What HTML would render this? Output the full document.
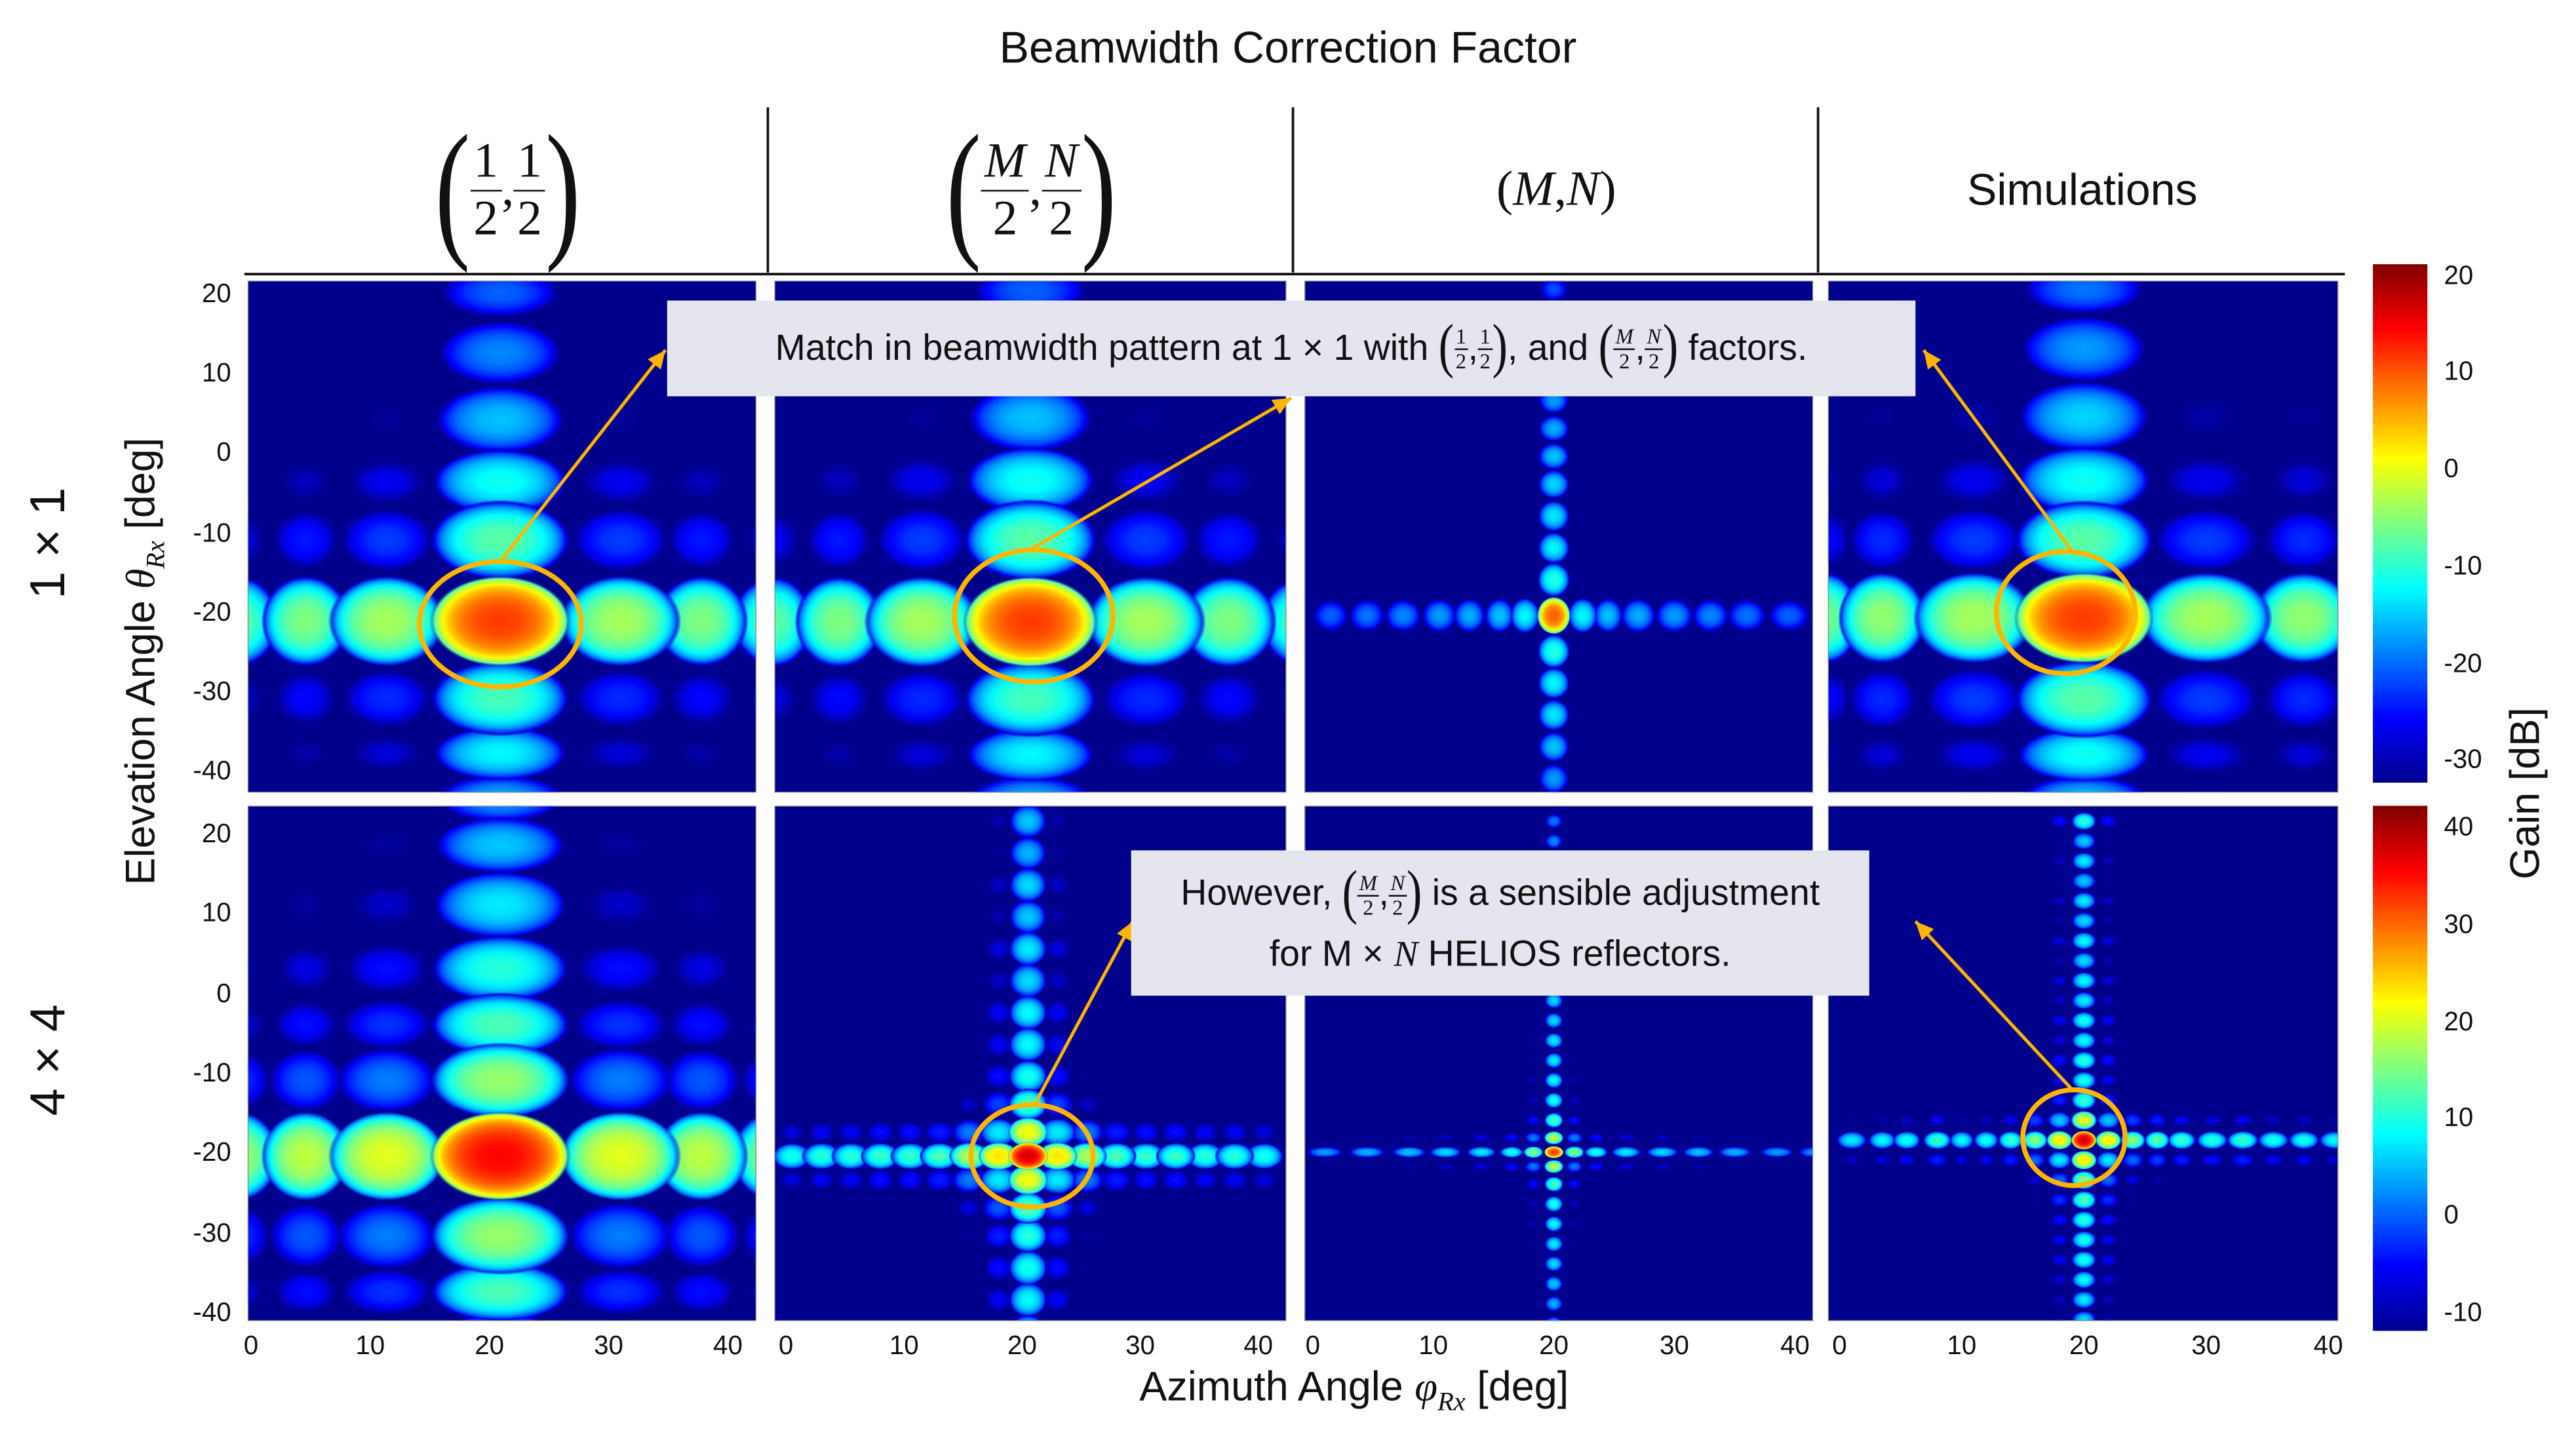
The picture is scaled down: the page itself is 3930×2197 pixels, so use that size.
<!DOCTYPE html>
<html><head><meta charset="utf-8">
<style>
html,body{margin:0;padding:0;background:#fff;overflow:hidden;}
body{width:3930px;height:2195px;}
#root{position:absolute;left:0;top:0;width:1560px;height:871.3px;transform:scale(2.51923);transform-origin:0 0;font-family:"Liberation Sans",sans-serif;color:#111;}
.abs{position:absolute;}
.tick{position:absolute;font-size:16px;}
.ytick{width:40px;text-align:right;}
.xtick{width:40px;text-align:center;}
.frac{display:inline-flex;flex-direction:column;align-items:center;vertical-align:middle;line-height:1;}
.frac .n{border-bottom:1.6px solid #111;padding:0 2px 2px;}
.frac .d{padding-top:2px;}
.hdr{position:absolute;top:65px;height:100px;display:flex;align-items:center;justify-content:center;font-family:"Liberation Serif",serif;font-size:30px;}
.bigp{display:inline-block;font-size:64px;transform:scaleY(1.45);font-family:"Liberation Serif",serif;line-height:1;}
.box{position:absolute;background:#e5e5f0;font-size:22px;}
.sfrac{display:inline-flex;flex-direction:column;align-items:center;vertical-align:middle;line-height:1;font-size:13px;font-family:"Liberation Serif",serif;}
.sfrac .n{border-bottom:1px solid #111;padding:0 1px 1px;}
.sp{display:inline-block;font-size:28px;transform:scaleY(1.3);vertical-align:middle;font-family:"Liberation Serif",serif;}
i{font-family:"Liberation Serif",serif;}
</style></head>
<body>
<div id="root">
<div class="abs" style="left:0;width:1560px;top:14px;text-align:center;font-size:27px;">Beamwidth Correction Factor</div>

<div class="hdr" style="left:150px;width:315px;"><span class="bigp">(</span><span class="frac"><span class="n">1</span><span class="d">2</span></span>,<span class="frac"><span class="n">1</span><span class="d">2</span></span><span class="bigp">)</span></div>
<div class="hdr" style="left:466px;width:317px;"><span class="bigp">(</span><span class="frac"><span class="n"><i>M</i></span><span class="d">2</span></span>,<span class="frac"><span class="n"><i>N</i></span><span class="d">2</span></span><span class="bigp">)</span></div>
<div class="hdr" style="left:784px;width:317px;">(<i>M</i>, <i>N</i>)</div>
<div class="hdr" style="left:1102px;width:318px;font-family:'Liberation Sans',sans-serif;font-size:27px;">Simulations</div>

<div class="abs" style="left:-20px;top:312px;width:100px;text-align:center;font-size:30px;transform:rotate(-90deg);">1 × 1</div>
<div class="abs" style="left:-20px;top:625px;width:100px;text-align:center;font-size:30px;transform:rotate(-90deg);">4 × 4</div>
<div class="abs" style="left:-82px;top:384px;width:340px;text-align:center;font-size:25px;transform:rotate(-90deg);">Elevation Angle <i>θ<sub style="font-size:16px">Rx</sub></i> [deg]</div>
<div class="abs" style="left:570px;top:826px;width:500px;text-align:center;font-size:25px;">Azimuth Angle <i>φ<sub style="font-size:16px">Rx</sub></i> [deg]</div>
<div class="abs" style="left:1470px;top:466px;width:120px;text-align:center;font-size:25px;transform:rotate(-90deg);">Gain [dB]</div>

<svg id="plot" class="abs" style="left:0;top:0" width="1560" height="872" viewBox="0 0 1560 872">
<defs id="defs">
<linearGradient id="jetbar" x1="0" y1="1" x2="0" y2="0">
<stop offset="0" stop-color="#00008f"/><stop offset="0.125" stop-color="#0000ff"/><stop offset="0.375" stop-color="#00ffff"/><stop offset="0.625" stop-color="#ffff00"/><stop offset="0.875" stop-color="#ff0000"/><stop offset="1" stop-color="#800000"/>
</linearGradient>
</defs>
<g id="panels"></g>
<line x1="465" y1="65" x2="465" y2="165" stroke="#111" stroke-width="1.5"/>
<line x1="783" y1="65" x2="783" y2="165" stroke="#111" stroke-width="1.5"/>
<line x1="1101" y1="65" x2="1101" y2="165" stroke="#111" stroke-width="1.5"/>
<line x1="148" y1="166" x2="1420" y2="166" stroke="#111" stroke-width="1.5"/>
<rect x="1437" y="160" width="33" height="314" fill="url(#jetbar)"/>
<rect x="1437" y="488" width="33" height="318" fill="url(#jetbar)"/>
<g id="annot" fill="none" stroke="#ffb400" stroke-width="3"></g>
</svg>

<div class="box" style="left:404px;top:182px;width:756px;height:58px;display:flex;align-items:center;justify-content:center;">Match in beamwidth pattern at 1 × 1 with&nbsp;<span class="sp">(</span><span class="sfrac"><span class="n">1</span><span class="d">2</span></span>,<span class="sfrac"><span class="n">1</span><span class="d">2</span></span><span class="sp">)</span>, and&nbsp;<span class="sp">(</span><span class="sfrac"><span class="n"><i>M</i></span><span class="d">2</span></span>,<span class="sfrac"><span class="n"><i>N</i></span><span class="d">2</span></span><span class="sp">)</span>&nbsp;factors.</div>
<div class="box" style="left:685px;top:515px;width:447px;height:88px;text-align:center;line-height:36px;padding-top:8px;box-sizing:border-box;">However,&nbsp;<span class="sp">(</span><span class="sfrac"><span class="n"><i>M</i></span><span class="d">2</span></span>,<span class="sfrac"><span class="n"><i>N</i></span><span class="d">2</span></span><span class="sp">)</span> is a sensible adjustment<br>for M × <i>N</i> HELIOS reflectors.</div>

<div id="ticks"></div>
</div>

<script>
// ---- data: lobe azimuth positions (deg), levels (dB), elevation positions (deg), levels (dB), peaks (dB)
const p1Az=[-1,4.6,11.4,20.9,31,37.8,44];
const p1AzLvl=[-19,-17,-15,0,-15,-17,-19];
const p1El=[26,20.6,13,4.6,-3.2,-10.5,-20.7,-30.4,-37.3,-43];
const p1ElLvl=[-34,-32,-30,-27,-23,-19,0,-20,-24,-28];
const p2Az=[-1,4.5,11.5,20.7,30.5,37.5,44];
const p2AzLvl=[-19,-17,-15,0,-15,-17,-19];
const p2El=[26,20.8,13.2,4.8,-3,-10.5,-20.8,-30.5,-37.5,-43];
const p2ElLvl=[-34,-32,-30,-27,-23,-19,0,-20,-24,-28];
const p3Az=[1.5,4.5,7.5,10.5,13,15.5,17.6,20,22.4,24.5,27,30,33,36,39.5];
const p3AzLvl=[-30,-29,-28,-27,-26,-25,-22,0,-22,-25,-26,-27,-28,-29,-30];
const p3El=[21,17.5,14,10.5,7,3.5,0,-3.5,-7.5,-11.5,-15.5,-20,-24.5,-28.5,-32.5,-36.5,-40.5];
const p3ElLvl=[-31,-30,-29,-28,-27,-26,-25,-24,-23,-22,-20,0,-20,-22,-23,-25,-27];
const p4Az=[-1,3.5,11,20,30,38,44];
const p4AzLvl=[-18,-16,-15,0,-15,-16,-18];
const p4El=[26,21,13.5,5,-3,-10.5,-20.3,-30.5,-37.5,-43];
const p4ElLvl=[-33,-31,-29,-26,-23,-19,0,-19,-23,-27];
const p5Az=[-1,4.6,11.4,20.9,31,37.8,44];
const p5AzLvl=[-19,-17,-15,0,-15,-17,-19];
const p5El=[25,19,11.5,3.5,-3.5,-10.5,-20,-30,-37,-43];
const p5ElLvl=[-32,-30,-28,-25,-23,-19,0,-19,-23,-27];
const p6Az=[0.5,3,5.5,8,10.5,13,15.5,18,20.5,23,25.5,28,30.5,33,35.5,38,40.5];
const p6AzLvl=[-28,-27,-27,-26,-26,-25,-20,-14,0,-14,-20,-25,-26,-26,-27,-27,-28];
const p6El=[22,18,14,10,6,2,-2,-6,-10,-13.5,-17,-20,-23,-26.5,-30,-34,-38,-42];
const p6ElLvl=[-32,-33,-31,-32,-30,-31,-29,-29,-28,-25,-16,0,-16,-24,-27,-28,-29,-30];
const p7Az=[1,4.5,8,11,14,16.5,18.3,20,21.7,23.5,26,29,32,35,38.5,41.5];
const p7AzLvl=[-29,-28,-27,-26,-25,-23,-17,0,-17,-23,-25,-26,-27,-28,-29,-30];
const p7El=[22,19.5,17,14.5,12,9.5,7,4.5,2,-0.5,-3,-5.5,-8,-10.5,-13,-15.5,-17.7,-19.5,-21.3,-23.5,-26,-28.5,-31,-33.5,-36,-38.5,-41];
const p7ElLvl=[-31,-30,-30,-29,-29,-28,-28,-27,-27,-26,-26,-25,-25,-24,-23,-20,-14,0,-14,-20,-23,-24,-25,-26,-27,-28,-29];
const p8Az=[1,3.5,5.5,8,10,12,14,16,18,20,22,24,26,28,30.5,33,35.5,38,40.5];
const p8AzLvl=[-30,-29,-28,-26,-29,-28,-26,-22,-15,0,-15,-22,-24,-26,-27,-26,-28,-28,-29];
const p8El=[22,19.5,17,14.5,12,9.5,7,4.5,2,-0.5,-3,-5.5,-8,-10.5,-13,-15.5,-18,-20.5,-23,-25.5,-28,-30.5,-33,-35.5,-38,-40.5];
const p8ElLvl=[-27,-32,-30,-32,-30,-31,-29,-31,-29,-30,-28,-29,-27,-28,-26,-17,0,-15,-22,-25,-27,-28,-28,-29,-30,-31];
const peaks=[12,12,10,12,36,38,33,38];
const row1Range=[-32,21.5];
const row2Range=[-11.5,42.5];
const row1Ticks=[20,10,0,-10,-20,-30];
const row2Ticks=[40,30,20,10,0,-10];
const angleTicksY=[20,10,0,-10,-20,-30,-40];
const angleTicksX=[0,10,20,30,40];

// ---- layout
const cols=[{x0:152,px:7.22,l:150,r:458},{x0:476,px:7.15,l:469,r:779},{x0:795,px:7.3,l:790,r:1098},{x0:1114,px:7.4,l:1107,r:1416}];
const rows=[{y20:180,py:4.82,t:170,b:480,range:row1Range},{y20:507,py:4.83,t:488,b:800,range:row2Range}];
const panelDefs=[
 {r:0,c:0,az:p1Az,azL:p1AzLvl,el:p1El,elL:p1ElLvl,kx:1.15,ky:1.1},
 {r:0,c:1,az:p2Az,azL:p2AzLvl,el:p2El,elL:p2ElLvl,kx:1.15,ky:1.1},
 {r:0,c:2,az:p3Az,azL:p3AzLvl,el:p3El,elL:p3ElLvl,kx:1.1,ky:1},
 {r:0,c:3,az:p4Az,azL:p4AzLvl,el:p4El,elL:p4ElLvl,kx:1.15,ky:1.1},
 {r:1,c:0,az:p5Az,azL:p5AzLvl,el:p5El,elL:p5ElLvl,kx:1.15,ky:1.1},
 {r:1,c:1,az:p6Az,azL:p6AzLvl,el:p6El,elL:p6ElLvl,kx:1.3,ky:1.1},
 {r:1,c:2,az:p7Az,azL:p7AzLvl,el:p7El,elL:p7ElLvl,kx:0.9,ky:0.8},
 {r:1,c:3,az:p8Az,azL:p8AzLvl,el:p8El,elL:p8ElLvl,kx:1,ky:0.9}
];
const NS="http://www.w3.org/2000/svg";
function jet(v){v=Math.max(0,Math.min(1,v));const c=x=>Math.round(255*Math.max(0,Math.min(1,x)));
 let r=1.5-Math.abs(4*v-3),g=1.5-Math.abs(4*v-2),b=1.5-Math.abs(4*v-1);
 if(v<0.125){b=0.56+v/0.125*0.44;}
 return `rgb(${c(r)},${c(g)},${c(b)})`;}
function halfW(arr,i){const n=arr.length;let span;
 if(i===0)span=2*Math.abs(arr[1]-arr[0]);else if(i===n-1)span=2*Math.abs(arr[n-1]-arr[n-2]);else span=Math.abs(arr[i+1]-arr[i-1]);
 return span/4*1.05;}
const defs=document.getElementById('defs');
const pg=document.getElementById('panels');
let gid=0;
const ts=[0,0.3,0.5,0.62,0.72,0.8,0.87,0.93,1];
panelDefs.forEach((p,pi)=>{
 const R=rows[p.r],C=cols[p.c];const [cmin,cmax]=R.range;const peak=peaks[pi];
 const xOf=a=>C.x0+a*C.px; const yOf=e=>R.y20-(e-20)*R.py;
 const cp=document.createElementNS(NS,'clipPath');cp.id='clip'+pi;
 const cr=document.createElementNS(NS,'rect');cr.setAttribute('x',C.l);cr.setAttribute('y',R.t);cr.setAttribute('width',C.r-C.l);cr.setAttribute('height',R.b-R.t);
 cp.appendChild(cr);defs.appendChild(cp);
 const g=document.createElementNS(NS,'g');g.setAttribute('clip-path',`url(#clip${pi})`);
 
 
 const bg=document.createElementNS(NS,'rect');bg.setAttribute('x',C.l);bg.setAttribute('y',R.t);bg.setAttribute('width',C.r-C.l);bg.setAttribute('height',R.b-R.t);bg.setAttribute('fill','#00008c');
 
 
 g.appendChild(bg);
 const lobes=[];
 p.az.forEach((a,i)=>p.el.forEach((e,j)=>{const gain=peak+p.azL[i]+p.elL[j];if(gain>cmin+1)lobes.push({a,e,i,j,gain});}));
 lobes.sort((u,v)=>u.gain-v.gain);
 lobes.forEach(L=>{
  const id='lg'+(gid++);const rg=document.createElementNS(NS,'radialGradient');rg.id=id;
  ts.forEach(t=>{const db=t>=1?-99:20*Math.log10(Math.cos(Math.PI*t/2));const gg=L.gain+db;
   const st=document.createElementNS(NS,'stop');st.setAttribute('offset',t);
   st.setAttribute('stop-color',jet((gg-cmin)/(cmax-cmin)));
   st.setAttribute('stop-opacity',Math.max(0,Math.min(1,(gg-cmin)/5)));rg.appendChild(st);});
  defs.appendChild(rg);
  const el=document.createElementNS(NS,'ellipse');
  el.setAttribute('cx',xOf(L.a));el.setAttribute('cy',yOf(L.e));
  el.setAttribute('rx',halfW(p.az,L.i)*C.px*p.kx);el.setAttribute('ry',halfW(p.el,L.j)*R.py*p.ky);
  el.setAttribute('fill',`url(#${id})`);
  
  
  g.appendChild(el);
 });
 const fr=document.createElementNS(NS,'rect');fr.setAttribute('x',C.l);fr.setAttribute('y',R.t);fr.setAttribute('width',C.r-C.l);fr.setAttribute('height',R.b-R.t);fr.setAttribute('fill','none');fr.setAttribute('stroke','#888');fr.setAttribute('stroke-width','1');
 
 
 g.appendChild(fr);
 pg.appendChild(g);
});

// ticks
const tk=document.getElementById('ticks');
function addTick(txt,x,y,cls,name){const d=document.createElement('div');d.className='tick '+cls;d.textContent=txt;d.style.left=x+'px';d.style.top=y+'px';
 
 
 tk.appendChild(d);}
rows.forEach(R=>angleTicksY.forEach(v=>addTick(v,100,R.y20-(v-20)*R.py-10,'ytick','y-tick-label')));
cols.forEach(C=>angleTicksX.forEach(v=>addTick(v,C.x0+v*C.px-20,807,'xtick','x-tick-label')));
row1Ticks.forEach(v=>addTick(v,1480,160+(row1Range[1]-v)/(row1Range[1]-row1Range[0])*314-10,'','colorbar-tick-label'));
row2Ticks.forEach(v=>addTick(v,1480,488+(row2Range[1]-v)/(row2Range[1]-row2Range[0])*318-10,'','colorbar-tick-label'));

// annotations
const an=document.getElementById('annot');
function ell(cx,cy,rx,ry){const e=document.createElementNS(NS,'ellipse');e.setAttribute('cx',cx);e.setAttribute('cy',cy);e.setAttribute('rx',rx);e.setAttribute('ry',ry);
 
 
 an.appendChild(e);}
function arrow(x1,y1,x2,y2){const l=document.createElementNS(NS,'line');l.setAttribute('x1',x1);l.setAttribute('y1',y1);l.setAttribute('x2',x2);l.setAttribute('y2',y2);l.setAttribute('stroke-width','2');
 
 
 an.appendChild(l);
 const ang=Math.atan2(y2-y1,x2-x1),s=11,w=5;
 const bx=x2-s*Math.cos(ang),by=y2-s*Math.sin(ang);
 const h=document.createElementNS(NS,'polygon');
 h.setAttribute('points',`${x2},${y2} ${bx+w*Math.sin(ang)},${by-w*Math.cos(ang)} ${bx-w*Math.sin(ang)},${by+w*Math.cos(ang)}`);
 h.setAttribute('fill','#ffb400');h.setAttribute('stroke','none');
 
 
 an.appendChild(h);}
ell(303,378,49,38);ell(626,373,48,40);ell(1251,371,42,37);ell(625,700,37,31);ell(1256,689,31,29);
arrow(303,340,403,212);arrow(622,334,782,241);arrow(1255,334,1165,212);arrow(626,670,686,558);arrow(1255,660,1160,558);
</script>
</body></html>
